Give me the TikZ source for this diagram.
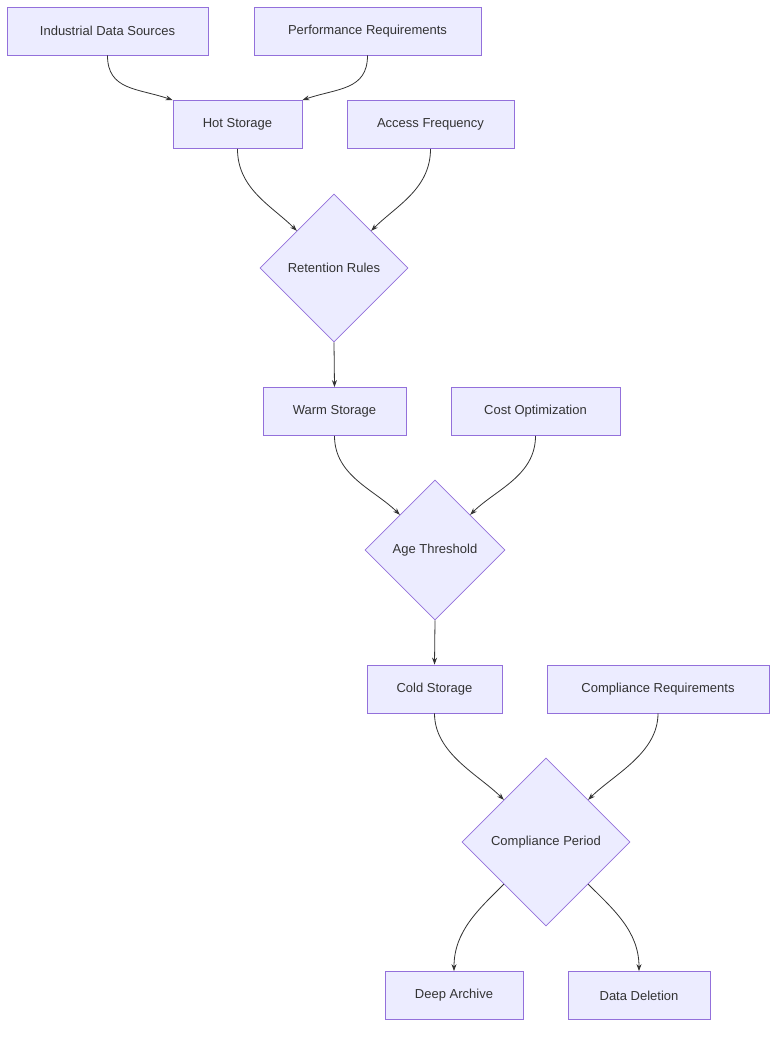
\documentclass[tikz,border=0pt]{standalone}
\usepackage{fontspec}
\setmainfont{Liberation Sans}
\usetikzlibrary{shapes.geometric,arrows.meta}
\definecolor{nf}{HTML}{ECECFF}
\definecolor{nb}{HTML}{9370DB}
\definecolor{ln}{HTML}{333333}
\begin{document}
\begin{tikzpicture}[x=1pt,y=-1pt,
  box/.style={draw=nb,fill=nf,line width=0.8pt,font=\fontsize{13}{15}\selectfont,text=ln,inner sep=0,minimum height=48pt},
  dia/.style={diamond,draw=nb,fill=nf,line width=0.8pt,font=\fontsize{13}{15}\selectfont,text=ln,inner sep=0},
  arr/.style={draw=ln,line width=0.8pt,-{Stealth[length=7pt,width=5pt]}}]
\useasboundingbox[fill=white] (0,0) rectangle (784,1039);
\node[box,minimum width=201pt] (ids) at (107.5,31) {Industrial Data Sources};
\node[box,minimum width=227pt] (pr) at (367.5,31) {Performance Requirements};
\node[box,minimum width=129pt] (hot) at (237.5,124.5) {Hot Storage};
\node[box,minimum width=167pt] (af) at (430.5,124.5) {Access Frequency};
\node[dia,minimum width=148pt,minimum height=148pt] (rr) at (334,268) {Retention Rules};
\node[box,minimum width=143pt] (warm) at (334.5,411.5) {Warm Storage};
\node[box,minimum width=169pt] (co) at (535.5,411.5) {Cost Optimization};
\node[dia,minimum width=140pt,minimum height=140pt] (at) at (435,550) {Age Threshold};
\node[box,minimum width=135pt] (cold) at (434.5,689) {Cold Storage};
\node[box,minimum width=222pt] (cr) at (658,689) {Compliance Requirements};
\node[dia,minimum width=168pt,minimum height=168pt] (cp) at (546,842) {Compliance Period};
\node[box,minimum width=138pt] (da) at (454,995.5) {Deep Archive};
\node[box,minimum width=142pt] (dd) at (639,995.5) {Data Deletion};
\draw[arr] (ids.south) .. controls +(0,35) and +(-35,-12) .. (hot.north west);
\draw[arr] (pr.south) .. controls +(0,35) and +(35,-12) .. (hot.north east);
\draw[arr] (hot.south) .. controls +(0,40) and +(-25,-25) .. (rr.north west);
\draw[arr] (af.south) .. controls +(0,40) and +(25,-25) .. (rr.north east);
\draw[arr] (rr.south) -- (warm.north);
\draw[arr] (warm.south) .. controls +(0,40) and +(-25,-25) .. (at.north west);
\draw[arr] (co.south) .. controls +(0,40) and +(25,-25) .. (at.north east);
\draw[arr] (at.south) -- (cold.north);
\draw[arr] (cold.south) .. controls +(0,40) and +(-25,-25) .. (cp.north west);
\draw[arr] (cr.south) .. controls +(0,40) and +(25,-25) .. (cp.north east);
\draw[arr] (cp.south west) .. controls +(-25,25) and +(0,-40) .. (da.north);
\draw[arr] (cp.south east) .. controls +(25,25) and +(0,-40) .. (dd.north);
\end{tikzpicture}
\end{document}
